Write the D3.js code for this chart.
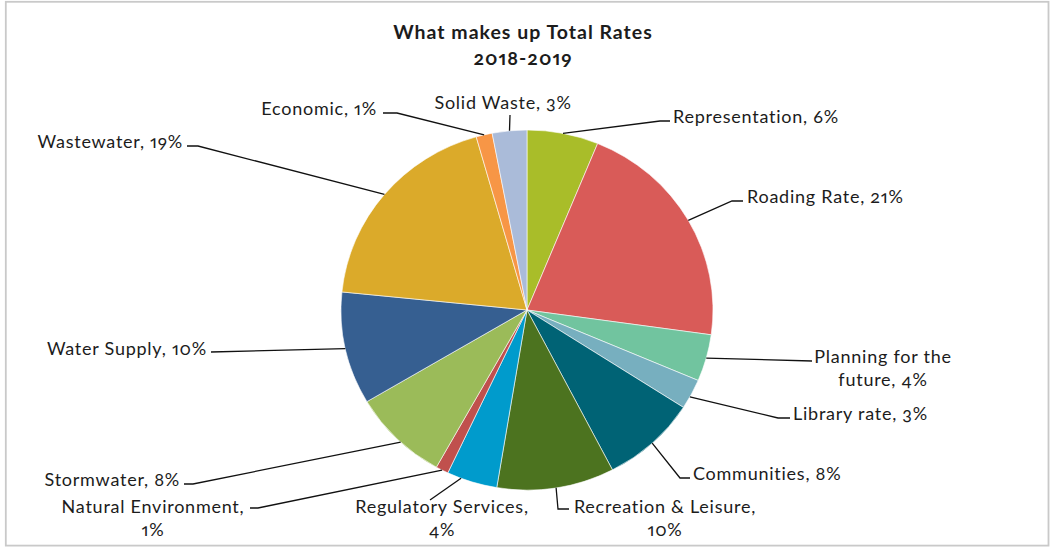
<!DOCTYPE html>
<html>
<head>
<meta charset="utf-8">
<script src="https://cdn.jsdelivr.net/npm/d3@7"></script>
<style>
  html, body { margin: 0; padding: 0; background: #fff; }
  text {
    font-family: Lato, "Open Sans", sans-serif;
    font-feature-settings: "onum" 1, "pnum" 1;
    fill: #1c1c1c;
  }
</style>
</head>
<body>
<svg id="chart" width="1050" height="547"></svg>
<script>
// Share of total rates by activity, 2018-2019 (percent), clockwise from 12 o'clock
const categories = [
  "Representation", "Roading Rate", "Planning for the future", "Library rate",
  "Communities", "Recreation & Leisure", "Regulatory Services", "Natural Environment",
  "Stormwater", "Water Supply", "Wastewater", "Economic", "Solid Waste"
];
const shares = [6.2, 21.0, 4.2, 2.7, 8.3, 10.2, 4.4, 1.1, 8.4, 10.1, 19.0, 1.4, 3.0];
const colors = [
  "#a9bd29", "#d95b58", "#71c49f", "#77afbf", "#006375", "#4c731f", "#009bcc",
  "#c0504d", "#9bbb59", "#365f91", "#dbaa2a", "#f79646", "#aabbd9"
];
const titleLines = ["What makes up Total Rates", "2018-2019"];

// Label placement: text anchor point, words on first line, leader elbow/end,
// and where along the slice the leader attaches (0..1 of its arc)
const labelLayout = [
  { x: 673, y: 123, anchor: "start",  split: 0, elbow: [660, 121], end: [670, 121], frac: 0.5 },
  { x: 747, y: 203, anchor: "start",  split: 0, elbow: [732, 201], end: [743, 201], frac: 0.5 },
  { x: 883, y: 363, anchor: "middle", split: 3, elbow: [812, 361], end: [812, 361], frac: 0.5 },
  { x: 793, y: 420, anchor: "start",  split: 0, elbow: [778, 418], end: [790, 418], frac: 0.6 },
  { x: 693, y: 480, anchor: "start",  split: 0, elbow: [680, 478], end: [690, 478], frac: 0.5 },
  { x: 665, y: 513, anchor: "middle", split: 3, elbow: [558, 509], end: [569, 509], frac: 0.5 },
  { x: 442, y: 513, anchor: "middle", split: 2, elbow: [430, 500], end: [430, 500], frac: 0.72 },
  { x: 153, y: 513, anchor: "middle", split: 2, elbow: [258, 508], end: [250, 508], frac: 0.5 },
  { x: 180, y: 486, anchor: "end",    split: 0, elbow: [193, 484], end: [184, 484], frac: 0.45 },
  { x: 207, y: 355, anchor: "end",    split: 0, elbow: [211, 352], end: [211, 352], frac: 0.5 },
  { x: 183, y: 148, anchor: "end",    split: 0, elbow: [198, 146], end: [187, 146], frac: 0.5 },
  { x: 377, y: 115, anchor: "end",    split: 0, elbow: [397, 113], end: [383, 113], frac: 0.5 },
  { x: 503, y: 109, anchor: "middle", split: 0, elbow: [510, 115], end: [510, 115], frac: 0.5 }
];

const svg = d3.select("#chart");
const cx = 527, cy = 310, rx = 186, ry = 180;

// Chart frame
svg.append("rect")
  .attr("x", 5.8).attr("y", 1.8)
  .attr("width", 1042.7).attr("height", 543.8)
  .attr("fill", "#fff")
  .attr("stroke", "#c9c9c9")
  .attr("stroke-width", 1.8);

// Title
svg.append("g").selectAll("text")
  .data(titleLines)
  .join("text")
  .attr("x", 523)
  .attr("y", (d, i) => 39 + i * 26)
  .attr("text-anchor", "middle")
  .style("font-size", "19.5px")
  .style("font-weight", "bold")
  .style("letter-spacing", "1px")
  .text(d => d);

const rows = categories.map((c, i) => ({ name: c, value: shares[i], color: colors[i], layout: labelLayout[i] }));

const pie = d3.pie().sort(null).value(d => d.value);
const arcs = pie(rows);
const arc = d3.arc().innerRadius(0).outerRadius(rx);

// Slices (slightly flattened vertically)
svg.append("g")
  .attr("transform", `translate(${cx},${cy}) scale(1,${ry / rx})`)
  .selectAll("path")
  .data(arcs)
  .join("path")
  .attr("d", arc)
  .attr("fill", d => d.data.color)
  .attr("stroke", "#fff")
  .attr("stroke-width", 0.6);

// Point on the slice rim at a fraction of its arc
function rimPoint(a, frac) {
  const t = a.startAngle + (a.endAngle - a.startAngle) * frac;
  return [cx + rx * Math.sin(t), cy - ry * Math.cos(t)];
}

// Leader lines
svg.append("g").selectAll("path")
  .data(arcs)
  .join("path")
  .attr("d", d => {
    const L = d.data.layout;
    const p = rimPoint(d, L.frac);
    return d3.line()([p, L.elbow, L.end]);
  })
  .attr("fill", "none")
  .attr("stroke", "#111")
  .attr("stroke-width", 1.3);

// Data labels
const labelG = svg.append("g").selectAll("text")
  .data(arcs)
  .join("text")
  .attr("x", d => d.data.layout.x)
  .attr("y", d => d.data.layout.y)
  .attr("text-anchor", d => d.data.layout.anchor)
  .style("font-size", "18px")
  .style("letter-spacing", "0.75px");

labelG.each(function (d) {
  const L = d.data.layout;
  const full = `${d.data.name}, ${Math.round(d.data.value)}%`;
  const t = d3.select(this);
  if (!L.split) {
    t.text(full);
  } else {
    const words = full.split(" ");
    const lines = [words.slice(0, L.split).join(" "), words.slice(L.split).join(" ")];
    lines.forEach((ln, k) => {
      t.append("tspan")
        .attr("x", L.x)
        .attr("dy", k === 0 ? 0 : 23)
        .text(ln);
    });
  }
});
</script>
</body>
</html>
